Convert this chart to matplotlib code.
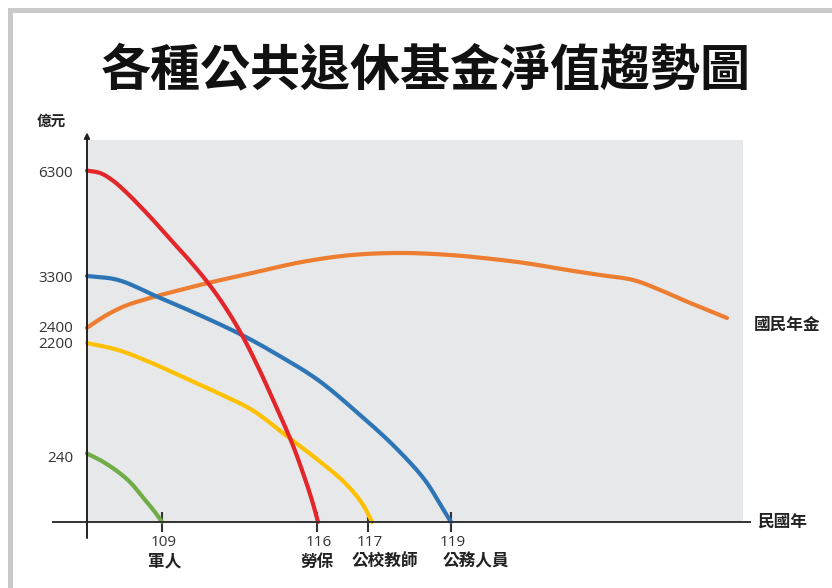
import matplotlib.pyplot as plt
import numpy as np
from matplotlib.patches import Rectangle

plt.rcParams['font.family'] = ['Noto Sans CJK TC', 'DejaVu Sans']

# 民國年, 億元 (schematic chart, axes are not linear)
green_year = [107, 107.48, 108.09, 108.55, 108.81, 109.0]
green_val = [300, 218, 155, 81, 37, 0]

yellow_year = [107, 107.83, 108.73, 110.04, 111.53, 113.07, 114.69, 116.02, 116.55,
               116.88, 117.10]
yellow_val = [2200, 2079, 1856, 1598, 1340, 1048, 584, 229, 144, 70, 0]

blue_year = [107, 107.83, 108.89, 110.49, 112.61, 114.24, 116.02, 116.80, 117.65,
             118.37, 118.78, 119.0]
blue_val = [3330, 3246, 2940, 2652, 2300, 1993, 1564, 996, 412, 155, 55, 0]

red_year = [107, 107.35, 107.67, 108.01, 108.41, 108.81, 109.36, 110.26, 111.08, 111.85,
            112.61, 113.34, 114.10, 114.87, 115.46, 115.77, 116.02]
red_val = [6340, 6271, 6071, 5757, 5328, 4871, 4386, 3757, 3192, 2760, 2300, 1787, 1151,
           481, 159, 81, 0]

orange_year = [107, 107.48, 108.01, 108.68, 109.81, 111.08, 113.07, 115.32, 116.69, 117.82,
               118.98, 119.77, 120.78, 121.80, 122.59, 123.39, 124.04, 124.59, 125.12, 125.65]
orange_val = [2390, 2598, 2778, 2922, 3066, 3192, 3414, 3729, 3929, 3986, 3929, 3843, 3700,
              3500, 3357, 3246, 3066, 2886, 2724, 2562]

y_ticks = [240, 2200, 2400, 3300, 6300]
x_ticks = [109, 116, 117, 119]
x_names = ['軍人', '勞保', '公校教師', '公務人員']

# piecewise scales so that the tick values sit where the drawing puts them
x_anchor = [100, 107, 109, 116, 117, 119, 135]
x_place = [-262.5, 0, 75, 230, 281, 364, 1028]
y_anchor = [-1000, 0, 240, 2200, 2400, 3300, 6300, 10000]
y_place = [-270.8, 0, 65, 179, 195, 245, 350, 479.5]


def fx(v):
    return np.interp(v, x_anchor, x_place)


def ifx(p):
    return np.interp(p, x_place, x_anchor)


def fy(v):
    return np.interp(v, y_anchor, y_place)


def ify(p):
    return np.interp(p, y_place, y_anchor)


def smooth(xs, ys, n=16, alpha=0.5):
    # centripetal catmull-rom through the read points, in the drawn (scaled) space
    P = np.column_stack([fx(np.asarray(xs, float)), fy(np.asarray(ys, float))])
    P = np.vstack([2*P[0] - P[1], P, 2*P[-1] - P[-2]])
    out = []
    for i in range(1, len(P) - 2):
        p0, p1, p2, p3 = P[i-1], P[i], P[i+1], P[i+2]
        t0 = 0.0
        t1 = t0 + max(np.linalg.norm(p1 - p0), 1e-6)**alpha
        t2 = t1 + max(np.linalg.norm(p2 - p1), 1e-6)**alpha
        t3 = t2 + max(np.linalg.norm(p3 - p2), 1e-6)**alpha
        t = np.linspace(t1, t2, n, endpoint=False)[:, None]
        a1 = (t1 - t)/(t1 - t0)*p0 + (t - t0)/(t1 - t0)*p1
        a2 = (t2 - t)/(t2 - t1)*p1 + (t - t1)/(t2 - t1)*p2
        a3 = (t3 - t)/(t3 - t2)*p2 + (t - t2)/(t3 - t2)*p3
        b1 = (t2 - t)/(t2 - t0)*a1 + (t - t0)/(t2 - t0)*a2
        b2 = (t3 - t)/(t3 - t1)*a2 + (t - t1)/(t3 - t1)*a3
        out.append((t2 - t)/(t2 - t1)*b1 + (t - t1)/(t2 - t1)*b2)
    out.append(P[-2][None, :])
    out = np.vstack(out)
    return ifx(out[:, 0]), ify(out[:, 1])


fig = plt.figure(figsize=(8.32, 5.88), dpi=100)
fig.patch.set_facecolor('white')
ax = fig.add_axes([87/832, 66/588, 656/832, 382/588])
ax.set_xscale('function', functions=(fx, ifx))
ax.set_yscale('function', functions=(fy, ify))
ax.set_facecolor('#e7e8ea')
ax.set_xlim(107, ifx(656))
ax.set_ylim(0, 7214)
for s in ax.spines.values():
    s.set_visible(False)

lw = 3.0
series = [(orange_year, orange_val, '#ed7d31'),
          (green_year, green_val, '#70ad47'),
          (yellow_year, yellow_val, '#ffc000'),
          (blue_year, blue_val, '#2e75b6'),
          (red_year, red_val, '#e3262a')]
for xs, ys, c in series:
    sx, sy = smooth(xs, ys)
    ax.plot(sx, sy, color=c, lw=lw, solid_capstyle='round', clip_on=False)

# axes lines
ax.plot([-0.052, 1.011], [0, 0], transform=ax.transAxes, color='#333333', lw=1.4, clip_on=False)
ax.annotate('', xy=(0, 1.02), xycoords='axes fraction', xytext=(0, -0.042),
            textcoords='axes fraction',
            arrowprops=dict(arrowstyle='-|>', lw=1.4, color='#222222', mutation_scale=8,
                            shrinkA=0, shrinkB=0))

ax.set_yticks(y_ticks)
ax.set_yticklabels([str(v) for v in y_ticks], family=['Open Sans', 'DejaVu Sans'],
                   fontsize=11, color='#333333')
ax.tick_params(axis='y', length=0, pad=10)

ax.set_xticks(x_ticks)
ax.set_xticklabels([])
ax.tick_params(axis='x', direction='inout', length=14, width=1.5, color='#333333')
ax.xaxis.set_minor_locator(plt.NullLocator())
ax.yaxis.set_minor_locator(plt.NullLocator())

name_shift = [2, 0, 12, 18]
for yr, nm, sh in zip(x_ticks, x_names, name_shift):
    ax.annotate(str(yr), xy=(yr, 0), xytext=(1, -9), textcoords='offset points',
                ha='center', va='top', fontsize=11, color='#333333',
                family=['Open Sans', 'DejaVu Sans'])
    ax.annotate(nm, xy=(yr, 0), xytext=(sh, -22), textcoords='offset points',
                ha='center', va='top', fontsize=12, fontweight='bold', color='#222222')

ax.annotate('國民年金', xy=(orange_year[-1], orange_val[-1]), xytext=(19, -5),
            textcoords='offset points', ha='left', va='center', fontsize=12,
            fontweight='bold', color='#222222', annotation_clip=False)
ax.annotate('民國年', xy=(1, 0), xycoords='axes fraction', xytext=(10, 0),
            textcoords='offset points', ha='left', va='center', fontsize=12,
            fontweight='bold', color='#222222')
fig.text(51/832, 1 - 121/588, '億元', ha='center', va='center', fontsize=10.5,
         fontweight='bold', color='#222222')

fig.text(426/832, 1 - 71/588, '各種公共退休基金淨值趨勢圖', ha='center', va='center',
         fontsize=36, fontweight='heavy', color='#111111')

# frame of the picture
fig.add_artist(Rectangle((8/832, 0), 5/832, 580/588, transform=fig.transFigure,
                         color='#c9c9c9', lw=0))
fig.add_artist(Rectangle((8/832, 1 - 13/588), 1 - 8/832, 5/588, transform=fig.transFigure,
                         color='#c9c9c9', lw=0))

fig.savefig('out.png', dpi=100)
